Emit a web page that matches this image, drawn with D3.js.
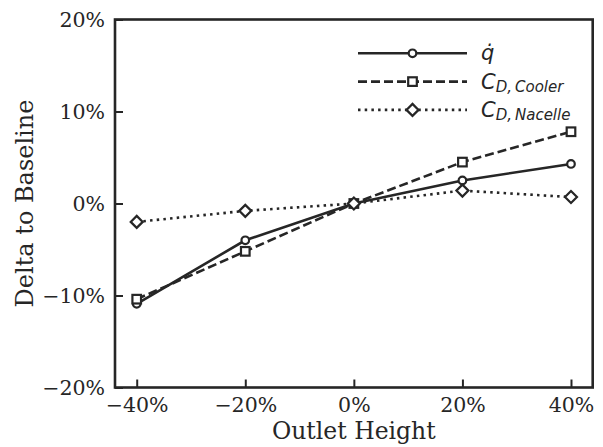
<!DOCTYPE html>
<html>
<head>
<meta charset="utf-8">
<script src="https://cdn.jsdelivr.net/npm/d3@7"></script>
<style>
  body { margin: 0; background: #fff; }
  text { fill: #262626; }
</style>
</head>
<body>
<div id="chart"></div>
<script>
// Chart data (percent)
const outletHeights = [-40, -20, 0, 20, 40];
const qDot = [-10.9, -4.0, 0, 2.5, 4.3];
const cdCooler = [-10.4, -5.2, 0, 4.5, 7.8];
const cdNacelle = [-2.0, -0.8, 0, 1.4, 0.7];
const xTicks = [-40, -20, 0, 20, 40];
const yTicks = [-20, -10, 0, 10, 20];

(() => {
  const W = 603, H = 447;
  const margin = { top: 19.5, right: 10.3, bottom: 59.5, left: 115 };
  const width = W - margin.left - margin.right;
  const height = H - margin.top - margin.bottom;
  const ink = "#262626";
  const serif = "'DejaVu Serif', serif";
  const sans = "'DejaVu Sans', sans-serif";

  const svg = d3.select("#chart").append("svg")
    .attr("width", W).attr("height", H)
    .append("g")
    .attr("transform", `translate(${margin.left},${margin.top})`);

  const x = d3.scaleLinear().domain([-44, 44]).range([0, width]);
  const y = d3.scaleLinear().domain([-20, 20]).range([height, 0]);

  const fmt = (d) => (d < 0 ? "\u2212" + Math.abs(d) : d) + "%";

  // Axes with inward ticks
  const xAxis = svg.append("g")
    .attr("transform", `translate(0,${height})`)
    .call(d3.axisBottom(x).tickValues(xTicks).tickSizeInner(-8).tickSizeOuter(0).tickPadding(10).tickFormat(fmt));
  const yAxis = svg.append("g")
    .call(d3.axisLeft(y).tickValues(yTicks).tickSizeInner(-8).tickSizeOuter(0).tickPadding(10).tickFormat(fmt));

  [xAxis, yAxis].forEach((g) => {
    g.select(".domain").remove();
    g.selectAll(".tick line").attr("stroke", ink).attr("stroke-width", 2);
    g.selectAll(".tick text")
      .style("font-family", serif).style("font-size", "20.5px").attr("fill", ink);
  });
  yAxis.selectAll(".tick text").attr("dy", "0.36em");

  // Frame
  svg.append("rect")
    .attr("x", 0).attr("y", 0).attr("width", width).attr("height", height)
    .attr("fill", "none").attr("stroke", ink).attr("stroke-width", 2.6);

  // Axis labels
  svg.append("text")
    .attr("x", width / 2).attr("y", height + 51.5)
    .attr("text-anchor", "middle")
    .style("font-family", serif).style("font-size", "23.5px")
    .text("Outlet Height");
  svg.append("text")
    .attr("transform", "rotate(-90)")
    .attr("x", -height / 2).attr("y", -82)
    .attr("text-anchor", "middle")
    .style("font-family", serif).style("font-size", "24px")
    .text("Delta to Baseline");

  const series = [
    { key: "q", values: qDot, dash: null, marker: "circle" },
    { key: "cooler", values: cdCooler, dash: "9,4", marker: "square" },
    { key: "nacelle", values: cdNacelle, dash: "2.5,4.2", marker: "diamond" },
  ];

  const line = d3.line().x((d) => x(d.x)).y((d) => y(d.y));

  function drawMarker(g, type) {
    if (type === "circle") {
      g.append("circle").attr("r", 3.8);
    } else if (type === "square") {
      g.append("rect").attr("x", -4.3).attr("y", -4.3).attr("width", 8.6).attr("height", 8.6);
    } else {
      g.append("path").attr("d", "M0,-6L6,0L0,6L-6,0Z");
    }
    g.selectAll("*").attr("fill", "#fff").attr("stroke", ink).attr("stroke-width", 2.2);
  }

  series.forEach((s) => {
    const pts = outletHeights.map((h, i) => ({ x: h, y: s.values[i] }));
    svg.append("path")
      .datum(pts)
      .attr("d", line)
      .attr("fill", "none")
      .attr("stroke", ink)
      .attr("stroke-width", 2.6)
      .attr("stroke-dasharray", s.dash);
    pts.forEach((p) => {
      const g = svg.append("g").attr("transform", `translate(${x(p.x)},${y(p.y)})`);
      drawMarker(g, s.marker);
    });
  });

  // Legend
  const legend = svg.append("g").attr("transform", `translate(${358 - margin.left},${53.3 - margin.top})`);
  series.forEach((s, i) => {
    const row = legend.append("g").attr("transform", `translate(0,${i * 28.3})`);
    row.append("line")
      .attr("x1", 0).attr("x2", 109).attr("y1", 0).attr("y2", 0)
      .attr("stroke", ink).attr("stroke-width", 2.6)
      .attr("stroke-dasharray", s.dash);
    const m = row.append("g").attr("transform", "translate(54.5,0)");
    drawMarker(m, s.marker);
    const t = row.append("text")
      .attr("x", 123).attr("y", 7)
      .style("font-family", sans).style("font-style", "italic").style("font-size", "21px");
    if (s.key === "q") {
      t.text("q\u0307");
    } else {
      t.append("tspan").text("C");
      t.append("tspan").attr("dy", 3).style("font-size", "15px")
        .text(s.key === "cooler" ? "D,\u2009Cooler" : "D,\u2009Nacelle");
    }
  });
})();
</script>
</body>
</html>
